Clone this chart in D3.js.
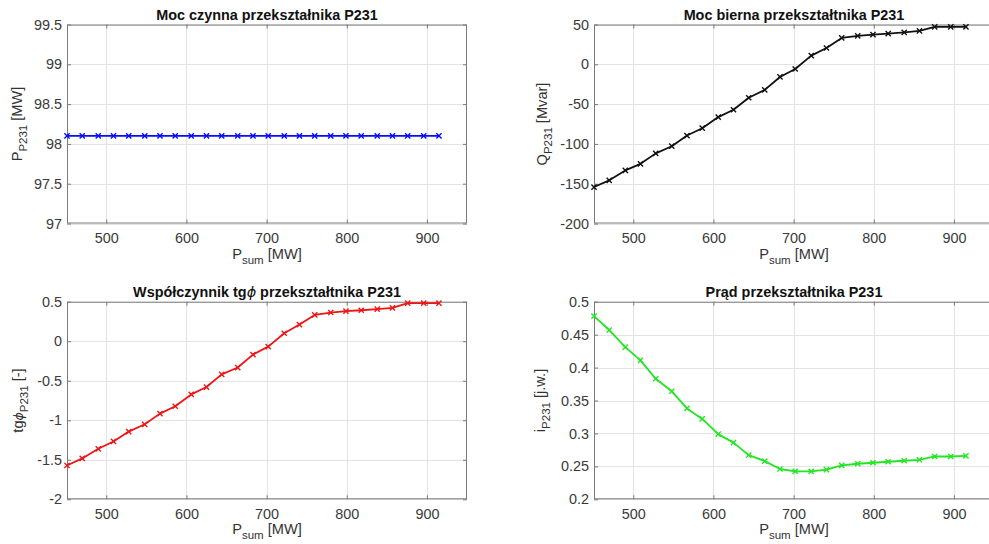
<!DOCTYPE html>
<html>
<head>
<meta charset="utf-8">
<script src="https://cdn.jsdelivr.net/npm/d3@7"></script>
<style>
  html, body { margin: 0; padding: 0; background: #fff; }
  svg { display: block; font-family: "Liberation Sans", Arial, Helvetica, sans-serif; }
</style>
</head>
<body>
<svg id="chart" width="989" height="544"></svg>
<script>
// ---- data ----
const pSum = [451, 470, 490, 509, 528, 548, 567, 586, 606, 625, 644, 664, 683, 702, 722, 741, 760, 780, 799, 818, 838, 857, 876, 896, 915];
const pActive = [98.1, 98.1, 98.1, 98.1, 98.1, 98.1, 98.1, 98.1, 98.1, 98.1, 98.1, 98.1, 98.1, 98.1, 98.1, 98.1, 98.1, 98.1, 98.1, 98.1, 98.1, 98.1, 98.1, 98.1, 98.1];
const qReactive = [-154.2, -145.8, -133.3, -125.0, -111.9, -102.9, -89.5, -80.3, -66.3, -57.1, -42.0, -32.2, -15.9, -5.9, 10.9, 20.5, 33.1, 35.6, 37.3, 38.5, 40.2, 41.9, 47.1, 47.1, 47.1];
const tgPhi = [-1.572, -1.483, -1.361, -1.268, -1.143, -1.051, -0.916, -0.823, -0.673, -0.580, -0.420, -0.333, -0.169, -0.068, 0.101, 0.211, 0.333, 0.363, 0.380, 0.392, 0.405, 0.422, 0.481, 0.481, 0.481];
const current = [0.478, 0.457, 0.431, 0.411, 0.383, 0.364, 0.338, 0.322, 0.299, 0.286, 0.267, 0.258, 0.246, 0.2425, 0.2425, 0.245, 0.2515, 0.254, 0.2555, 0.257, 0.2585, 0.260, 0.265, 0.265, 0.266];

const xTicks = [500, 600, 700, 800, 900];
const yTicksP = [97, 97.5, 98, 98.5, 99, 99.5];
const yTicksQ = [-200, -150, -100, -50, 0, 50];
const yTicksTg = [-2, -1.5, -1, -0.5, 0, 0.5];
const yTicksI = [0.2, 0.25, 0.3, 0.35, 0.4, 0.45, 0.5];

const titles = [
  "Moc czynna przekształnika P231",
  "Moc bierna przekształtnika P231",
  "Współczynnik tgϕ przekształtnika P231",
  "Prąd przekształtnika P231"
];

// ---- drawing ----
const svg = d3.select("#chart");
const FS_TICK = 14.4, FS_LAB = 14.6, FS_TITLE = 14.4, FS_SUB = 11.5;

function panel(cfg) {
  const { left, top, width, height, xDomain, yDomain, yTicks, values, color, yLabel } = cfg;
  const x = d3.scaleLinear().domain(xDomain).range([left, left + width]);
  const y = d3.scaleLinear().domain(yDomain).range([top + height, top]);
  const g = svg.append("g");

  // grid
  g.append("g").selectAll("line").data(xTicks).join("line")
    .attr("x1", d => Math.round(x(d)) + 0.5).attr("x2", d => Math.round(x(d)) + 0.5)
    .attr("y1", top).attr("y2", top + height)
    .attr("stroke", "#e3e3e3").attr("stroke-width", 1);
  g.append("g").selectAll("line").data(yTicks).join("line")
    .attr("y1", d => Math.round(y(d)) + 0.5).attr("y2", d => Math.round(y(d)) + 0.5)
    .attr("x1", left).attr("x2", left + width)
    .attr("stroke", "#e3e3e3").attr("stroke-width", 1);

  // axes (ticks inward, box)
  const axB = d3.axisBottom(x).tickValues(xTicks).tickSize(-4).tickPadding(9).tickFormat(d3.format("d"));
  const axL = d3.axisLeft(y).tickValues(yTicks).tickSize(-4).tickPadding(5).tickFormat(d => String(d));
  const axT = d3.axisTop(x).tickValues(xTicks).tickSize(-4).tickFormat("");
  const axR = d3.axisRight(y).tickValues(yTicks).tickSize(-4).tickFormat("");

  const styleAxis = sel => {
    sel.selectAll(".domain").attr("stroke", "#7a7a7a");
    sel.selectAll(".tick line").attr("stroke", "#7a7a7a");
    sel.selectAll(".tick text").attr("fill", "#3a3a3a").attr("font-size", FS_TICK)
      .attr("font-family", "Liberation Sans, Arial, sans-serif");
  };
  g.append("g").attr("transform", `translate(0,${top + height})`).call(axB).call(styleAxis);
  g.append("g").attr("transform", `translate(${left},0)`).call(axL).call(styleAxis);
  g.append("g").attr("transform", `translate(0,${top})`).call(axT).call(styleAxis);
  g.append("g").attr("transform", `translate(${left + width},0)`).call(axR).call(styleAxis);
  g.selectAll(".domain").attr("d", null);
  g.append("rect").attr("x", left + 0.5).attr("y", top + 0.5)
    .attr("width", width - 1).attr("height", height - 1)
    .attr("fill", "none").attr("stroke", "#7a7a7a");

  // data line
  const pts = pSum.map((d, i) => [d, values[i]]);
  g.append("path").datum(pts)
    .attr("d", d3.line().x(d => x(d[0])).y(d => y(d[1])))
    .attr("fill", "none").attr("stroke", color).attr("stroke-width", 1.8)
    .attr("stroke-linejoin", "round");
  const s = 2.6;
  g.append("g").selectAll("path").data(pts).join("path")
    .attr("d", d => {
      const cx = x(d[0]), cy = y(d[1]);
      return `M${cx - s},${cy - s}L${cx + s},${cy + s}M${cx - s},${cy + s}L${cx + s},${cy - s}`;
    })
    .attr("stroke", color).attr("stroke-width", 1.4).attr("fill", "none");

  // title
  const t = g.append("text").attr("x", left + width / 2).attr("y", top - 5)
    .attr("text-anchor", "middle").attr("font-weight", "bold").attr("font-size", FS_TITLE)
    .attr("fill", "#111");
  cfg.titleParts.forEach(p => {
    t.append("tspan").text(p.t).attr("font-style", p.it ? "italic" : null)
      .attr("font-family", p.it ? "DejaVu Sans, sans-serif" : null)
      .attr("font-weight", p.it ? "normal" : null);
  });

  // x label
  const xl = g.append("text").attr("x", left + width / 2).attr("y", top + height + 35)
    .attr("text-anchor", "middle").attr("font-size", FS_LAB).attr("fill", "#333");
  xl.append("tspan").text("P");
  xl.append("tspan").text("sum").attr("font-size", FS_SUB).attr("dy", 5);
  xl.append("tspan").text(" [MW]").attr("dy", -5);

  // y label
  const yl = g.append("text")
    .attr("transform", `translate(${cfg.yLabelX},${top + height / 2}) rotate(-90)`)
    .attr("text-anchor", "middle").attr("font-size", FS_LAB).attr("fill", "#333");
  yLabel.forEach(p => {
    const ts = yl.append("tspan").text(p.t);
    if (p.sub) ts.attr("font-size", FS_SUB).attr("dy", 5);
    if (p.after) ts.attr("dy", -5);
    if (p.it) ts.attr("font-family", "DejaVu Sans, sans-serif").attr("font-style", "italic").attr("font-size", 12.5);
  });
}

panel({
  left: 67, top: 24.5, width: 400, height: 199,
  xDomain: [451, 950], yDomain: [97, 99.5], yTicks: yTicksP,
  values: pActive, color: "#0a0aff",
  titleParts: [{ t: titles[0] }],
  yLabel: [{ t: "P" }, { t: "P231", sub: true }, { t: " [MW]", after: true }],
  yLabelX: 22
});
panel({
  left: 594, top: 24.5, width: 400, height: 199,
  xDomain: [451, 950], yDomain: [-200, 50], yTicks: yTicksQ,
  values: qReactive, color: "#111",
  titleParts: [{ t: titles[1] }],
  yLabelX: 547,
  yLabel: [{ t: "Q" }, { t: "P231", sub: true }, { t: " [Mvar]", after: true }]
});
panel({
  left: 67, top: 301.7, width: 400, height: 197.6,
  xDomain: [451, 950], yDomain: [-2, 0.5], yTicks: yTicksTg,
  values: tgPhi, color: "#ee1515",
  titleParts: [{ t: "Współczynnik tg" }, { t: "ϕ", it: true }, { t: " przekształtnika P231" }],
  yLabel: [{ t: "tg" }, { t: "ϕ", it: true }, { t: "P231", sub: true }, { t: " [-]", after: true }],
  yLabelX: 23
});
panel({
  left: 594, top: 301.7, width: 400, height: 197.6,
  xDomain: [451, 950], yDomain: [0.2, 0.5], yTicks: yTicksI,
  values: current, color: "#22e622",
  titleParts: [{ t: titles[3] }],
  yLabel: [{ t: "i" }, { t: "P231", sub: true }, { t: " [j.w.]", after: true }],
  yLabelX: 545
});
</script>
</body>
</html>
